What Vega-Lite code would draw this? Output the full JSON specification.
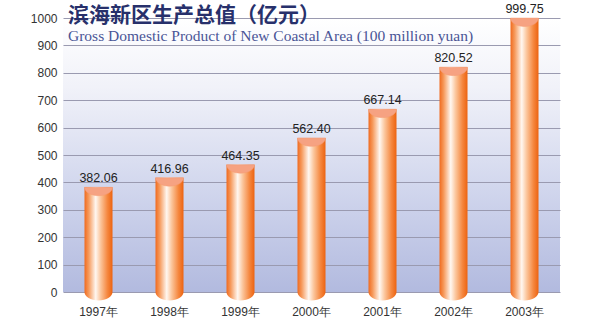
{
  "$schema": "https://vega.github.io/schema/vega-lite/v6.json",
  "autosize": {"type": "none"},
  "width": 497,
  "height": 274,
  "padding": {"left": 63, "top": 18, "right": 40, "bottom": 35},
  "background": "#ffffff",
  "title": {
    "text": "滨海新区生产总值（亿元）",
    "subtitle": "Gross Domestic Product of New Coastal Area (100 million yuan)",
    "anchor": "start",
    "frame": "group",
    "orient": "top",
    "offset": 0,
    "dx": 5,
    "dy": 41,
    "font": "Noto Sans CJK SC",
    "fontSize": 21,
    "fontWeight": "bold",
    "color": "#27306b",
    "subtitleFont": "Liberation Serif",
    "subtitleFontSize": 15.5,
    "subtitleColor": "#4a5596",
    "subtitlePadding": 3
  },
  "config": {
    "view": {
      "stroke": null,
      "fill": {
        "gradient": "linear",
        "x1": 0, "y1": 0, "x2": 0, "y2": 1,
        "stops": [
          {"offset": 0, "color": "#ffffff"},
          {"offset": 0.25, "color": "#f1f2f9"},
          {"offset": 0.6, "color": "#d3d8ee"},
          {"offset": 1, "color": "#b2badf"}
        ]
      }
    },
    "axis": {"labelFont": "Liberation Sans", "labelFontSize": 12, "labelColor": "#333333"},
    "axisY": {"title": null, "tickCount": 10, "format": "d", "domain": false, "ticks": false, "labelPadding": 6, "gridColor": "#9a9ab0", "gridWidth": 1, "labelOverlap": false}
  },
  "data": {
    "values": [
      {"year": "1997年", "value": 382.06},
      {"year": "1998年", "value": 416.96},
      {"year": "1999年", "value": 464.35},
      {"year": "2000年", "value": 562.40},
      {"year": "2001年", "value": 667.14},
      {"year": "2002年", "value": 820.52},
      {"year": "2003年", "value": 999.75}
    ]
  },
  "encoding": {
    "x": {
      "field": "year", "type": "ordinal", "sort": null,
      "scale": {"paddingInner": 0.6, "paddingOuter": 0.3},
      "axis": {"title": null, "labelAngle": 0, "domain": false, "ticks": false, "labelPadding": 14}
    }
  },
  "layer": [
    {
      "mark": {
        "type": "bar",
        "width": 28,
        "fill": {
          "gradient": "linear",
          "x1": 0, "y1": 0, "x2": 1, "y2": 0,
          "stops": [
            {"offset": 0, "color": "#f06a1e"},
            {"offset": 0.15, "color": "#f69a5c"},
            {"offset": 0.4, "color": "#fff7f0"},
            {"offset": 0.58, "color": "#fbc59b"},
            {"offset": 0.82, "color": "#f5873f"},
            {"offset": 1, "color": "#ec6310"}
          ]
        }
      },
      "encoding": {
        "y": {
          "field": "value", "type": "quantitative",
          "scale": {"domain": [0, 1000]},
          "axis": {"title": null}
        },
        "y2": {"datum": 0}
      }
    },
    {
      "mark": {
        "type": "point",
        "shape": "M-1,0A1,0.6,0,0,0,1,0Z",
        "size": 784,
        "filled": true,
        "opacity": 1,
        "fill": {
          "gradient": "linear",
          "x1": 0, "y1": 0, "x2": 1, "y2": 0,
          "stops": [
            {"offset": 0, "color": "#f06a1e"},
            {"offset": 0.15, "color": "#f69a5c"},
            {"offset": 0.4, "color": "#fff7f0"},
            {"offset": 0.58, "color": "#fbc59b"},
            {"offset": 0.82, "color": "#f5873f"},
            {"offset": 1, "color": "#ec6310"}
          ]
        }
      },
      "encoding": {
        "y": {"datum": 0, "type": "quantitative", "axis": {"title": null}}
      }
    },
    {
      "mark": {
        "type": "point",
        "shape": "M-1,0L1,0A1,0.6,0,0,1,-1,0Z",
        "size": 784,
        "filled": true,
        "opacity": 1,
        "fill": "#f6a282",
        "stroke": "#f59a72",
        "strokeWidth": 0.5
      },
      "encoding": {
        "y": {"field": "value", "type": "quantitative", "axis": {"title": null}}
      }
    },
    {
      "mark": {
        "type": "text",
        "dy": -5,
        "font": "Liberation Sans",
        "fontSize": 12.5,
        "color": "#222222",
        "baseline": "alphabetic"
      },
      "encoding": {
        "y": {"field": "value", "type": "quantitative", "axis": {"title": null}},
        "text": {"field": "value", "type": "quantitative", "format": ".2f"}
      }
    }
  ]
}
